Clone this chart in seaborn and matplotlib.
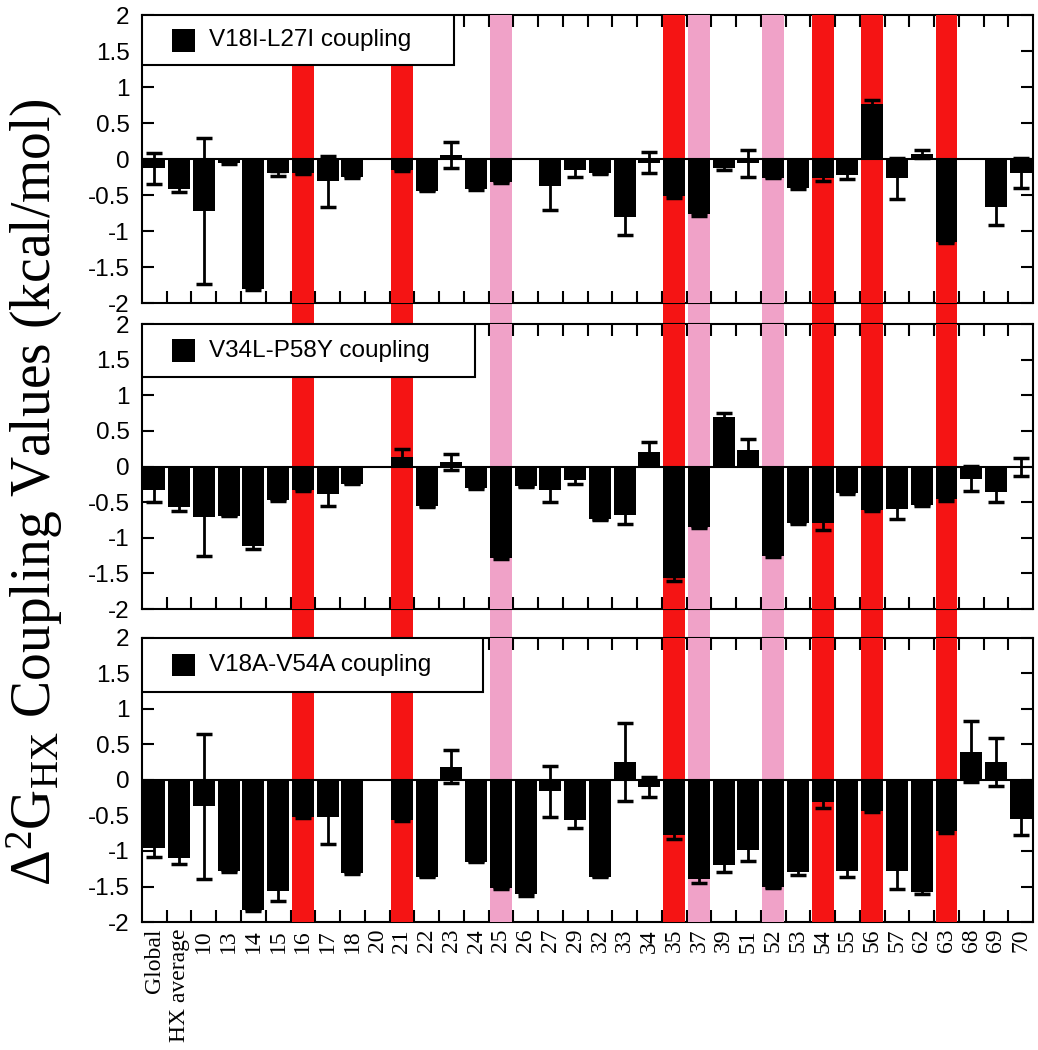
import numpy as np
import pandas as pd
import seaborn as sns
import matplotlib
matplotlib.use("Agg")
from matplotlib import pyplot as plt
from matplotlib.patches import Rectangle
from matplotlib.ticker import MultipleLocator, FixedLocator, FuncFormatter

sns.set_theme(style="ticks", rc={"axes.edgecolor": "black", "xtick.color": "black",
                                 "ytick.color": "black", "text.color": "black"})
plt.rcParams['font.family'] = ['Liberation Sans', 'DejaVu Sans']
plt.rcParams['axes.unicode_minus'] = False
plt.rcParams['mathtext.fontset'] = 'custom'
plt.rcParams['mathtext.rm'] = 'Liberation Serif'
plt.rcParams['mathtext.it'] = 'Liberation Serif:italic'

nan = np.nan

residues = ["Global", "HX average", "10", "13", "14", "15", "16", "17", "18", "20",
            "21", "22", "23", "24", "25", "26", "27", "29", "32", "33", "34", "35",
            "37", "39", "51", "52", "53", "54", "55", "56", "57", "62", "63", "68",
            "69", "70"]

v18i_l27i = [-0.13, -0.41, -0.72, -0.05, -1.80, -0.20, -0.20, -0.31, -0.25, nan,
             -0.15, -0.44, 0.06, -0.41, -0.32, nan, -0.38, -0.15, -0.20, -0.81, -0.05,
             -0.52, -0.77, -0.12, -0.06, -0.26, -0.40, -0.26, -0.22, 0.76, -0.27, 0.07,
             -1.15, nan, -0.66, -0.19]
v18i_l27i_err = [0.21, 0.05, 1.01, 0.02, 0.02, 0.03, 0.01, 0.35, 0.02, nan,
                 0.01, 0.01, 0.18, 0.02, 0.01, nan, 0.33, 0.10, 0.01, 0.25, 0.15,
                 0.02, 0.02, 0.03, 0.19, 0.01, 0.02, 0.05, 0.06, 0.06, 0.28, 0.05,
                 0.01, nan, 0.26, 0.21]

v34l_p58y = [-0.33, -0.57, -0.71, -0.69, -1.11, -0.47, -0.33, -0.39, -0.24, nan,
             0.13, -0.56, 0.06, -0.30, -1.28, -0.28, -0.33, -0.19, -0.74, -0.68, 0.21,
             -1.57, -0.85, 0.70, 0.23, -1.25, -0.79, -0.79, -0.37, -0.61, -0.59, -0.54,
             -0.46, -0.17, -0.36, -0.01]
v34l_p58y_err = [0.17, 0.05, 0.54, 0.01, 0.05, 0.02, 0.01, 0.17, 0.01, nan,
                 0.11, 0.01, 0.11, 0.01, 0.02, 0.01, 0.17, 0.05, 0.01, 0.13, 0.14,
                 0.03, 0.01, 0.05, 0.15, 0.02, 0.01, 0.10, 0.01, 0.02, 0.14, 0.01,
                 0.02, 0.18, 0.14, 0.13]

v18a_v54a = [-0.96, -1.10, -0.37, -1.28, -1.83, -1.56, -0.52, -0.52, -1.31, nan,
             -0.56, -1.36, 0.19, -1.15, -1.52, -1.61, -0.16, -0.57, -1.36, 0.25, -0.10,
             -0.77, -1.40, -1.20, -0.99, -1.51, -1.29, -0.31, -1.28, -0.43, -1.28, -1.58,
             -0.72, 0.40, 0.25, -0.55]
v18a_v54a_err = [0.13, 0.08, 1.02, 0.01, 0.02, 0.14, 0.02, 0.38, 0.02, nan,
                 0.02, 0.01, 0.23, 0.01, 0.02, 0.02, 0.36, 0.11, 0.01, 0.55, 0.14,
                 0.06, 0.05, 0.10, 0.15, 0.01, 0.05, 0.09, 0.08, 0.02, 0.26, 0.03,
                 0.02, 0.43, 0.34, 0.23]

red_residues = ["16", "21", "35", "54", "56", "63"]
pink_residues = ["25", "37", "52"]

panels = [
    ("V18I-L27I coupling", v18i_l27i, v18i_l27i_err),
    ("V34L-P58Y coupling", v34l_p58y, v34l_p58y_err),
    ("V18A-V54A coupling", v18a_v54a, v18a_v54a_err),
]

RED = "#f51414"
PINK = "#f0a2c8"
n = len(residues)

fig = plt.figure(figsize=(10.38, 10.50), dpi=100)
left, width = 0.1368, 0.8584
boxes = [(0.7114, 0.2743), (0.4200, 0.2714), (0.1219, 0.2705)]
keys = [(0.350, 0.174), (0.374, 0.186), (0.383, 0.190)]

def add_bands(ax, z):
    for r in red_residues:
        i = residues.index(r)
        ax.axvspan(i - 0.44, i + 0.44, color=RED, lw=0, zorder=z)
    for r in pink_residues:
        i = residues.index(r)
        ax.axvspan(i - 0.44, i + 0.44, color=PINK, lw=0, zorder=z)

# bands run through all three panels and the gaps between them
bg = fig.add_axes([left, 0.1219, width, 0.8638], zorder=0)
bg.set_xlim(-0.5, n - 0.5)
bg.axis("off")
add_bands(bg, 1)

for k, (label, vals, errs) in enumerate(panels):
    b, h = boxes[k]
    ax = fig.add_axes([left, b, width, h], zorder=1 + k)
    ax.set_facecolor("none")
    df = pd.DataFrame({"residue": residues, "value": vals})
    sns.barplot(data=df, x="residue", y="value", order=residues, color="black",
                width=0.88, errorbar=None, saturation=1, linewidth=0, ax=ax, zorder=3)
    ax.errorbar(np.arange(n), vals, yerr=errs, fmt="none", ecolor="black",
                elinewidth=2, capsize=6, capthick=2.5, zorder=4)
    add_bands(ax, 2.6)
    ax.axhline(0, color="black", lw=1.5, zorder=2.7)

    ax.set_xlim(-0.5, n - 0.5)
    ax.set_ylim(-2, 2)
    ax.set_xlabel("")
    ax.set_ylabel("")
    for s in ax.spines.values():
        s.set_linewidth(1.5)
        s.set_visible(True)

    ax.yaxis.set_major_locator(MultipleLocator(0.5))
    ax.yaxis.set_major_formatter(FuncFormatter(lambda v, p: f"{v:g}"))
    ax.tick_params(axis="y", which="major", direction="in", length=8.5, width=1.5,
                   left=True, right=True, labelsize=17.5, pad=9)
    ax.xaxis.set_minor_locator(FixedLocator(np.arange(n - 1) + 0.5))
    ax.tick_params(axis="x", which="minor", direction="in", length=8.5, width=1.5,
                   top=True, bottom=True)
    ax.tick_params(axis="x", which="major", length=0, pad=5, labelsize=17,
                   labelrotation=90, labelbottom=(k == 2))
    for t in ax.get_xticklabels():
        t.set_fontfamily("Liberation Serif")

    # key box in the upper left corner
    kw, kh = keys[k]
    ax.add_patch(Rectangle((0, 1 - kh), kw, kh, transform=ax.transAxes,
                           facecolor="white", edgecolor="black", lw=1.5, zorder=5))
    ax.add_patch(Rectangle((0.034, 1 - kh / 2 - 0.04), 0.026, 0.08,
                           transform=ax.transAxes, facecolor="black", lw=0, zorder=6))
    ax.text(0.075, 1 - kh / 2, label, transform=ax.transAxes, va="center",
            ha="left", fontsize=17.5, zorder=6)

fig.text(0.034, 0.531, r"$\Delta^2$G$_{\rm HX}$ Coupling Values (kcal/mol)",
         rotation=90, ha="center", va="center", fontsize=40,
         family="Liberation Serif")

fig.savefig("out.png", dpi=100)
